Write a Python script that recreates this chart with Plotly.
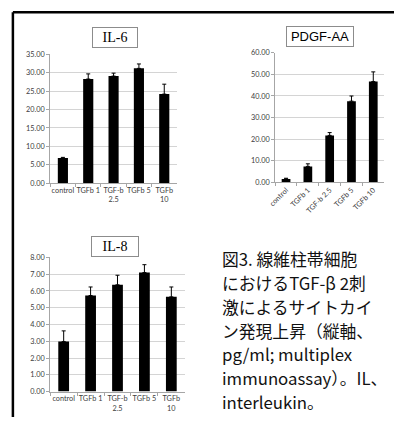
import plotly.graph_objects as go

W, H = 394, 422

# Category labels
cats_il6 = ["control", "TGFb 1", "TGF-b<br>2.5", "TGFb 5", "TGFb<br>10"]
cats_pdgf = ["control", "TGFb 1", "TGF-b 2.5", "TGFb 5", "TGFb 10"]
cats_il8 = ["control", "TGFb 1", "TGF-b<br>2.5", "TGFb 5", "TGFb<br>10"]

# Means and upper error (pg/ml)
il6_mean = [6.8, 28.3, 29.1, 31.2, 24.2]
il6_err = [0.2, 1.4, 0.8, 1.2, 2.7]
pdgf_mean = [1.5, 7.3, 21.7, 37.6, 46.7]
pdgf_err = [0.3, 1.2, 1.3, 2.4, 4.5]
il8_mean = [2.98, 5.73, 6.37, 7.10, 5.65]
il8_err = [0.64, 0.51, 0.57, 0.47, 0.59]

titles = ["IL-6", "PDGF-AA", "IL-8"]

caption_lines = [
    "図3. 線維柱帯細胞",
    "におけるTGF-β 2刺",
    "激によるサイトカイ",
    "ン発現上昇（縦軸、",
    "pg/ml; multiplex",
    "immunoassay）。IL、",
    "interleukin。",
]


def px_x(p):
    return p / W


def px_y(p):
    return 1 - p / H


fig = go.Figure()

panels = [
    # (cats, mean, err, xaxis id, yaxis id)
    (cats_il6, il6_mean, il6_err, "x", "y"),
    (cats_pdgf, pdgf_mean, pdgf_err, "x2", "y2"),
    (cats_il8, il8_mean, il8_err, "x3", "y3"),
]

for cats, mean, err, xa, ya in panels:
    fig.add_trace(go.Bar(
        x=cats, y=mean, xaxis=xa, yaxis=ya,
        marker=dict(color="black", line=dict(width=0)),
        error_y=dict(type="data", array=err, arrayminus=[0] * len(err),
                     symmetric=False, color="black", thickness=1, width=2),
        showlegend=False, hoverinfo="skip",
    ))

tick_font = dict(family="Lato, Liberation Sans, sans-serif", size=7.3, color="#404040")
grid = "#d4d4d4"
axis_line = "#a6a6a6"


def xaxis_style(domain, angle=0):
    return dict(domain=domain, type="category", showline=True, linecolor=axis_line,
                linewidth=1, ticks="outside", tickson="boundaries", ticklen=3,
                tickcolor=axis_line, tickfont=tick_font, tickangle=angle,
                showgrid=False, fixedrange=True)


def yaxis_style(domain, rng, dtick, anchor):
    return dict(domain=domain, range=rng, dtick=dtick, tickformat=".2f",
                showline=True, linecolor=axis_line, linewidth=1, ticks="outside",
                ticklen=3, tickcolor=axis_line, tickfont=tick_font,
                showgrid=True, gridcolor=grid, gridwidth=1, zeroline=False,
                anchor=anchor, fixedrange=True)


fig.update_layout(
    width=W, height=H,
    margin=dict(l=0, r=0, t=0, b=0),
    paper_bgcolor="white", plot_bgcolor="white",
    bargap=0.6,
    xaxis=xaxis_style([px_x(44), px_x(173)]),
    yaxis=yaxis_style([px_y(183), px_y(51.5)], [0, 35], 5, "x"),
    xaxis2=xaxis_style([px_x(273), px_x(384)], angle=-45) | dict(anchor="y2"),
    yaxis2=yaxis_style([px_y(182), px_y(50)], [0, 60], 10, "x2"),
    xaxis3=xaxis_style([px_x(44), px_x(181)]) | dict(anchor="y3"),
    yaxis3=yaxis_style([px_y(396), px_y(259)], [0, 8], 1, "x3"),
)

# Panel titles in outlined boxes
title_specs = [
    (titles[0], 110, 34, 40, "Liberation Serif, DejaVu Serif, serif", 14),
    (titles[1], 319, 33.5, 62, "Liberation Sans, Arial, sans-serif", 13),
    (titles[2], 110, 247.5, 42, "Liberation Serif, DejaVu Serif, serif", 14),
]
for txt, cx, cy, w, fam, sz in title_specs:
    fig.add_annotation(
        x=px_x(cx), y=px_y(cy), xref="paper", yref="paper",
        text=txt, showarrow=False, xanchor="center", yanchor="middle",
        font=dict(family=fam, size=sz, color="black"),
        bgcolor="white", bordercolor="#8c8c8c", borderwidth=1, borderpad=2,
        width=w, height=15,
    )

# Caption on the right, one annotation per line
for i, line in enumerate(caption_lines):
    fig.add_annotation(
        x=px_x(217), y=px_y(260.5 + i * 24.4), xref="paper", yref="paper",
        text=line, showarrow=False, xanchor="left", yanchor="middle",
        font=dict(family="Noto Sans CJK JP", size=16.8, color="#111111"),
    )

# Frame lines (top and left)
fig.add_shape(type="line", xref="paper", yref="paper",
              x0=px_x(6), x1=1.0, y0=px_y(8.5), y1=px_y(8.5),
              line=dict(color="black", width=2.5))
fig.add_shape(type="line", xref="paper", yref="paper",
              x0=px_x(6), x1=px_x(6), y0=0, y1=px_y(8.5),
              line=dict(color="black", width=2.5))

fig.write_html("out.html")
